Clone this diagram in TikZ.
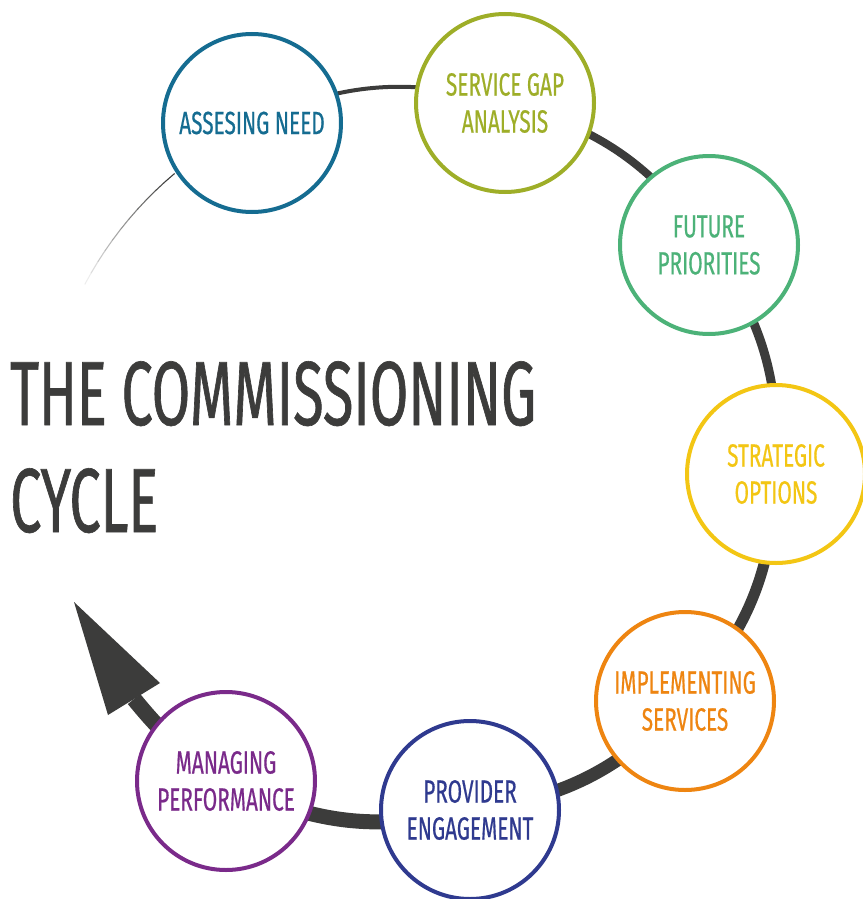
\documentclass[tikz,border=0pt]{standalone}
\usepackage{fontspec}
\setmainfont[FakeStretch=0.65,FakeBold=0.5]{Fira Sans}
\newfontfamily\headfont[FakeStretch=0.613,FakeBold=0.7]{Fira Sans}
\usetikzlibrary{backgrounds,calc}
\definecolor{cycdark}{HTML}{3C3C3B}
\definecolor{cneed}{HTML}{156C91}
\definecolor{cgap}{HTML}{9EAE28}
\definecolor{cfuture}{HTML}{4CB278}
\definecolor{cstrat}{HTML}{F3C614}
\definecolor{cimpl}{HTML}{EE8511}
\definecolor{cprov}{HTML}{2F3A8F}
\definecolor{cmanage}{HTML}{7A2A8A}
\tikzset{
  x=1pt, y=-1pt,
  stage/.style={circle, draw=#1, text=#1, line width=4pt, fill=white,
    minimum size=178pt, inner sep=0pt, align=center,
    font=\fontsize{32}{37}\selectfont},
  link/.style={draw=cycdark, line width=#1},
}
\begin{document}
\begin{tikzpicture}
\useasboundingbox (0,0) rectangle (862,899);

% stages of the cycle
\node[stage=cneed]   (asn) at (252,123) {ASSESING NEED};
\node[stage=cgap]    (sga) at (505,103) {SERVICE GAP\\ANALYSIS};
\node[stage=cfuture] (fp)  at (709,245) {FUTURE\\PRIORITIES};
\node[stage=cstrat]  (so)  at (776,474) {STRATEGIC\\OPTIONS};
\node[stage=cimpl]   (is)  at (685,701) {IMPLEMENTING\\SERVICES};
\node[stage=cprov]   (pe)  at (470,810) {PROVIDER\\ENGAGEMENT};
\node[stage=cmanage] (mp)  at (226,781) {MANAGING\\PERFORMANCE};

% title (base anchor sits on the last line)
\node[anchor=base west, inner sep=0pt, align=left, text=cycdark,
      font=\headfont\fontsize{91}{107}\selectfont] (title) at (10,532)
  {THE COMMISSIONING\\CYCLE};

% arrow head at the end of the cycle
\coordinate (tip)   at (74,602);
\coordinate (wingl) at (108,715);
\coordinate (wingr) at (160,683);
\coordinate (base)  at (134,699);
\coordinate (hub)   at (415,460);

\begin{scope}[on background layer]
  % fading tail before the first stage
  \foreach \a [evaluate=\a as \op using {1-(\a-130)/22}] in {130,132,...,150}
    \draw[cycdark, line width=1.1pt, opacity=\op]
      ($(hub)+({\a}:374 and -374)$) -- ($(hub)+({\a+2}:374 and -374)$);
  % growing band between the stages
  \path[link=4pt]  (asn.center) to[bend left=20] (sga.center);
  \path[link=8pt]  (sga.center) to[bend left=20] (fp.center);
  \path[link=9pt]  (fp.center)  to[bend left=19] (so.center);
  \path[link=11pt] (so.center)  to[bend left=20] (is.center);
  \path[link=13pt] (is.center)  to[bend left=20] (pe.center);
  \path[link=15pt] (pe.center)  to[bend left=20] (mp.center);
  \path[link=16pt] (mp.center)  to[bend left=9]  (base);
\end{scope}
\fill[cycdark] (tip) -- (wingl) -- (wingr) -- cycle;
\end{tikzpicture}
\end{document}
